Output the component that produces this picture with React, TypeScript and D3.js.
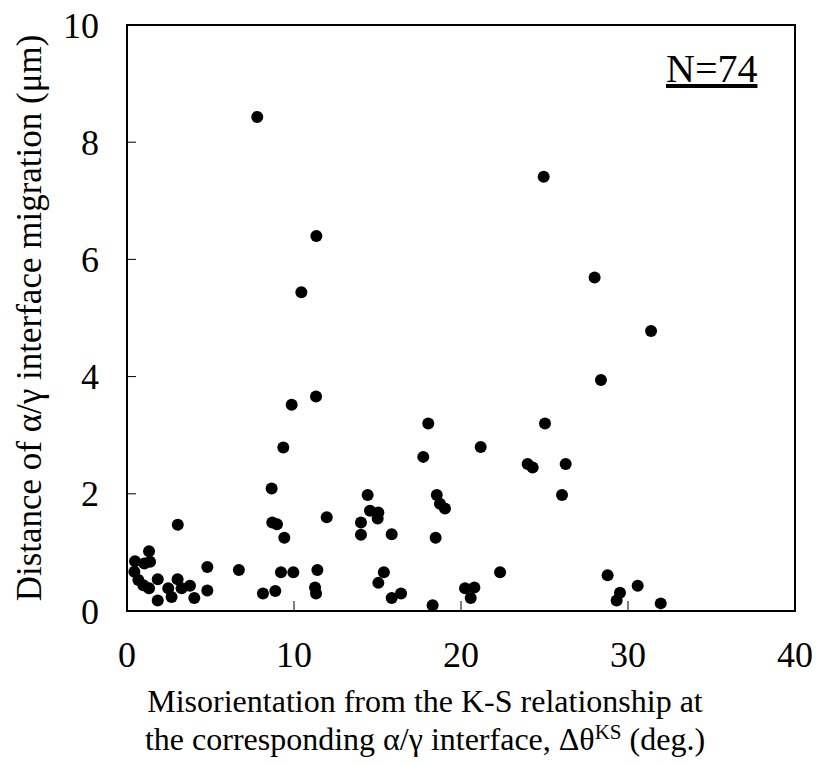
import React from "react";
import * as d3 from "d3";

const xTicks = [0, 10, 20, 30, 40];
const yTicks = [0, 2, 4, 6, 8, 10];

const misorientation = [
  0.48, 0.44, 0.68, 0.98, 1.04, 1.32, 1.38, 1.32, 1.84, 1.84,
  2.47, 2.67, 3.03, 3.27, 3.04, 3.77, 4.03, 4.81, 4.81, 6.7,
  8.14, 8.88, 9.22, 8.7, 8.98, 9.42, 8.66, 9.36, 9.86, 9.96,
  11.32, 10.44, 11.34, 7.8, 11.4, 11.26, 11.32, 11.96, 14.01, 14.01,
  14.41, 14.55, 15.05, 15.01, 15.38, 15.05, 15.85, 15.85, 16.41, 17.74,
  18.04, 18.55, 18.74, 19.04, 18.48, 18.3, 20.24, 20.58, 20.8, 21.18,
  22.34, 23.99, 24.29, 24.95, 25.03, 26.05, 26.27, 28.0, 28.38, 28.78,
  29.52, 29.32, 30.58, 31.96, 31.38,
];
const migration = [
  0.85, 0.67, 0.53, 0.44, 0.81, 1.02, 0.84, 0.39, 0.54, 0.18,
  0.39, 0.24, 0.54, 0.39, 1.47, 0.43, 0.22, 0.75, 0.35, 0.70,
  0.30, 0.34, 0.66, 1.51, 1.48, 1.25, 2.09, 2.79, 3.52, 0.66,
  3.66, 5.44, 6.40, 8.43, 0.70, 0.40, 0.30, 1.60, 1.51, 1.30,
  1.98, 1.71, 1.68, 1.58, 0.66, 0.48, 1.31, 0.22, 0.30, 2.63,
  3.20, 1.98, 1.83, 1.75, 1.25, 0.10, 0.39, 0.22, 0.40, 2.80,
  0.66, 2.51, 2.45, 7.41, 3.20, 1.98, 2.51, 5.69, 3.94, 0.61,
  0.31, 0.18, 0.43, 0.13, 4.78,
];

const W = 819;
const H = 765;
const L = 127, R = 795, T = 25, B = 611;
const FONT = '"Liberation Serif", "DejaVu Serif", "Times New Roman", serif';
const ts: React.CSSProperties = { fontFamily: FONT };

export default function App() {
  const x = d3.scaleLinear().domain([0, 40]).range([L, R]);
  const y = d3.scaleLinear().domain([0, 10]).range([B, T]);
  const pts = misorientation.map((v, i) => ({ x: v, y: migration[i] }));
  return (
    <svg width={W} height={H} style={{ position: "absolute", left: 0, top: 0, background: "#fff", fontFamily: FONT }}>
      <rect x={0} y={0} width={W} height={H} fill="#fff" />
      {xTicks.slice(1, -1).map((t) => (
        <line key={"xt" + t} x1={x(t)} x2={x(t)} y1={B} y2={B - 10} stroke="#000" strokeWidth={1} />
      ))}
      {yTicks.slice(1, -1).map((t) => (
        <line key={"yt" + t} x1={L} x2={L + 9} y1={y(t)} y2={y(t)} stroke="#000" strokeWidth={1} />
      ))}
      {pts.map((p, i) => (
        <circle key={i} cx={x(p.x)} cy={y(p.y)} r={6} fill="#000" />
      ))}
      <rect x={L} y={T} width={R - L} height={B - T} fill="none" stroke="#000" strokeWidth={2} />
      {xTicks.map((t) => (
        <text key={"xl" + t} style={ts} x={x(t)} y={667} fontSize={36} textAnchor="middle" fill="#000">{t}</text>
      ))}
      {yTicks.map((t) => (
        <text key={"yl" + t} style={ts} x={99} y={y(t)} dy="0.35em" fontSize={36} textAnchor="end" fill="#000">{t}</text>
      ))}
      <text style={ts} transform={`translate(41,${(T + B) / 2}) rotate(-90)`} fontSize={35} textAnchor="middle" fill="#000">
        Distance of α/γ interface migration (μm)
      </text>
      <text style={ts} x={425} y={712} fontSize={32} textAnchor="middle" fill="#000">
        Misorientation from the K-S relationship at
      </text>
      <text style={ts} x={425} y={750} fontSize={32} textAnchor="middle" fill="#000">
        the corresponding α/γ interface, Δθ<tspan fontSize={21} dy={-11}>KS</tspan><tspan dy={11}> (deg.)</tspan>
      </text>
      <text style={ts} x={666} y={82} fontSize={40} fill="#000" textDecoration="underline">N=74</text>
    </svg>
  );
}
